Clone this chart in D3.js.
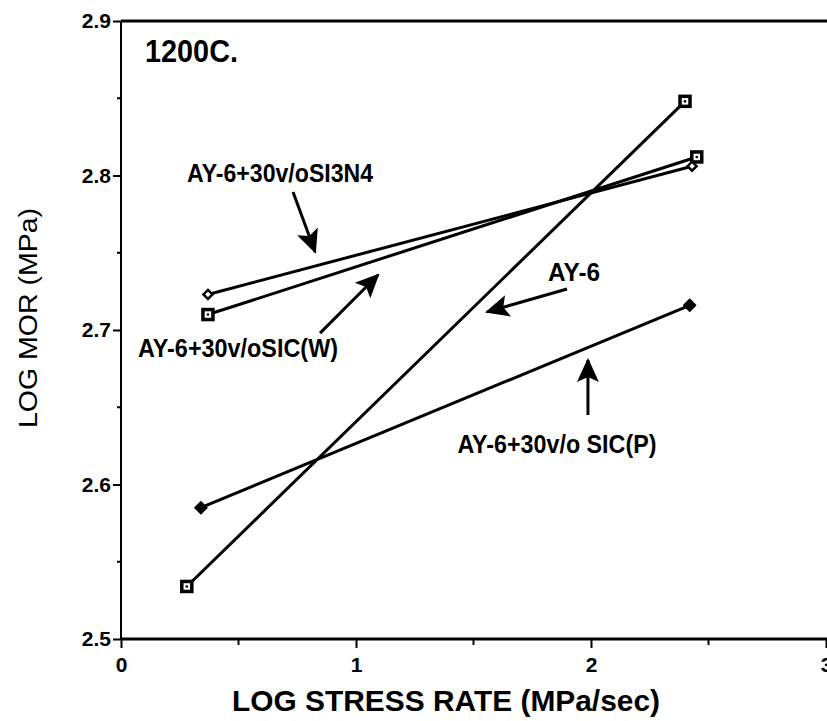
<!DOCTYPE html>
<html>
<head>
<meta charset="utf-8">
<script src="https://cdn.jsdelivr.net/npm/d3@7"></script>
<style>
  body { margin: 0; background: #fff; }
  text { font-family: "Liberation Sans", Arial, sans-serif; fill: #000; }
  .tick text { font-size: 21px; font-weight: bold; }
</style>
</head>
<body>
<div id="svg"></div>
<script>
// series values (log stress rate, log MOR)
const seriesNames = ['AY-6', 'AY-6+30v/oSIC(W)', 'AY-6+30v/oSI3N4', 'AY-6+30v/o SIC(P)'];
const ay6X = [0.28, 2.40];
const ay6Y = [2.534, 2.848];
const sicwX = [0.37, 2.45];
const sicwY = [2.710, 2.812];
const si3n4X = [0.37, 2.43];
const si3n4Y = [2.723, 2.806];
const sicpX = [0.34, 2.42];
const sicpY = [2.585, 2.716];

// tick labels
const xTicks = [0, 1, 2, 3];
const yTicks = [2.5, 2.6, 2.7, 2.8, 2.9];

// annotation labels and arrows (data coords)
const annoText = ['AY-6+30v/oSI3N4', 'AY-6+30v/oSIC(W)', 'AY-6', 'AY-6+30v/o SIC(P)'];
const annoX = [0.677, 0.498, 1.928, 1.855];
const annoY = [2.7958, 2.6825, 2.7317, 2.6204];
const annoLen = [186, 200, 52, 199];
const arrowFromX = [0.732, 0.847, 1.898, 1.987];
const arrowFromY = [2.7893, 2.698, 2.7265, 2.645];
const arrowToX = [0.826, 1.094, 1.557, 1.987];
const arrowToY = [2.7505, 2.7356, 2.7117, 2.6806];

//set variables
const w = 827;
const h = 721;
const pLeft = 121, pRight = 826, pTop = 21, pBottom = 639;

const xScale = d3.scaleLinear().domain([0, 3]).range([pLeft, pRight]);
const yScale = d3.scaleLinear().domain([2.5, 2.9]).range([pBottom, pTop]);

const svg = d3.select('#svg')
    .append('svg')
    .attr('width', w)
    .attr('height', h);

// arrow head
svg.append('defs').append('marker')
    .attr('id', 'head')
    .attr('viewBox', '0 0 24 24')
    .attr('refX', 22)
    .attr('refY', 12)
    .attr('markerWidth', 24)
    .attr('markerHeight', 24)
    .attr('markerUnits', 'userSpaceOnUse')
    .attr('orient', 'auto')
    .append('path')
    .attr('d', 'M0,1 L24,12 L0,23 L5,12 Z')
    .style('fill', 'black');

// top border
svg.append('line')
    .attr('x1', pLeft).attr('x2', w)
    .attr('y1', pTop).attr('y2', pTop)
    .style('stroke', 'black').style('stroke-width', 3);

// y axis
const yAxis = d3.axisLeft(yScale).tickValues(yTicks).tickFormat(d3.format('.1f')).tickSize(8).tickPadding(2);
const gy = svg.append('g')
    .attr('class', 'y-axis')
    .attr('transform', `translate(${pLeft},0)`)
    .call(yAxis)
    .attr('font-size', 21)
    .attr('font-weight', 'bold')
    .attr('font-family', '"Liberation Sans", Arial, sans-serif');
gy.select('.domain').attr('d', `M0,${pTop}V${pBottom}`).style('stroke-width', 2);
gy.selectAll('line').style('stroke-width', 2);
// minor ticks
svg.append('g').selectAll('line')
    .data([2.55, 2.65, 2.75, 2.85])
    .enter().append('line')
    .attr('x1', pLeft - 4).attr('x2', pLeft)
    .attr('y1', d => yScale(d)).attr('y2', d => yScale(d))
    .style('stroke', 'black').style('stroke-width', 2);

// x axis
const xAxis = d3.axisBottom(xScale).tickValues(xTicks).tickFormat(d3.format('d')).tickSize(9).tickPadding(9);
const gx = svg.append('g')
    .attr('class', 'x-axis')
    .attr('transform', `translate(0,${pBottom})`)
    .call(xAxis)
    .attr('font-size', 21)
    .attr('font-weight', 'bold')
    .attr('font-family', '"Liberation Sans", Arial, sans-serif');
gx.select('.domain').attr('d', `M${pLeft},0H${w}`).style('stroke-width', 3);
gx.selectAll('line').style('stroke-width', 2);
svg.append('g').selectAll('line')
    .data([0.5, 1.5, 2.5])
    .enter().append('line')
    .attr('x1', d => xScale(d)).attr('x2', d => xScale(d))
    .attr('y1', pBottom).attr('y2', pBottom + 6)
    .style('stroke', 'black').style('stroke-width', 2);

// lines
const series = [
    {x: ay6X, y: ay6Y, marker: 'sqdot'},
    {x: sicwX, y: sicwY, marker: 'square'},
    {x: si3n4X, y: si3n4Y, marker: 'diamond'},
    {x: sicpX, y: sicpY, marker: 'fill'}
];
series.forEach(s => {
    const pts = s.x.map((d, i) => [xScale(d), yScale(s.y[i])]);
    svg.append('path')
        .attr('d', d3.line()(pts))
        .style('fill', 'none')
        .style('stroke', 'black')
        .style('stroke-width', 3);
    const g = svg.append('g').selectAll('g').data(pts).enter().append('g')
        .attr('transform', d => `translate(${d[0]},${d[1]})`);
    if (s.marker === 'sqdot' || s.marker === 'square') {
        g.append('rect').attr('x', -5).attr('y', -5).attr('width', 10).attr('height', 10)
            .style('fill', 'white').style('stroke', 'black').style('stroke-width', 3.5);
        g.append('circle').attr('r', 1.3).style('fill', 'black');
    } else if (s.marker === 'diamond') {
        g.append('path').attr('d', 'M0,-4.5L4.5,0L0,4.5L-4.5,0Z')
            .style('fill', 'white').style('stroke', 'black').style('stroke-width', 2.5);
    } else {
        g.append('path').attr('d', 'M0,-6L6,0L0,6L-6,0Z')
            .style('fill', 'black').style('stroke', 'black').style('stroke-width', 1.5)
            .style('stroke-linejoin', 'round');
    }
});

// arrows
svg.append('g').selectAll('line')
    .data(annoText)
    .enter().append('line')
    .attr('x1', (d, i) => xScale(arrowFromX[i]))
    .attr('y1', (d, i) => yScale(arrowFromY[i]))
    .attr('x2', (d, i) => xScale(arrowToX[i]))
    .attr('y2', (d, i) => yScale(arrowToY[i]))
    .style('stroke', 'black')
    .style('stroke-width', 3)
    .attr('marker-end', 'url(#head)');

// annotation labels
svg.append('g').selectAll('text')
    .data(annoText)
    .enter().append('text')
    .attr('x', (d, i) => xScale(annoX[i]))
    .attr('y', (d, i) => yScale(annoY[i]))
    .attr('text-anchor', 'middle')
    .attr('textLength', (d, i) => annoLen[i])
    .attr('lengthAdjust', 'spacingAndGlyphs')
    .style('font-size', '25px')
    .style('font-weight', 'bold')
    .text(d => d);

// temperature label
svg.append('text')
    .attr('x', 145)
    .attr('y', 62)
    .attr('textLength', 93)
    .attr('lengthAdjust', 'spacingAndGlyphs')
    .style('font-size', '32px')
    .style('font-weight', 'bold')
    .text('1200C.');

// x-axis label
svg.append('text')
    .attr('x', 446)
    .attr('y', 711)
    .attr('text-anchor', 'middle')
    .attr('textLength', 428)
    .attr('lengthAdjust', 'spacingAndGlyphs')
    .style('font-size', '30px')
    .style('font-weight', 'bold')
    .text('LOG STRESS RATE (MPa/sec)');

// y-axis label
svg.append('text')
    .attr('transform', 'translate(37,318) rotate(-90)')
    .attr('text-anchor', 'middle')
    .attr('textLength', 220)
    .attr('lengthAdjust', 'spacingAndGlyphs')
    .style('font-size', '25px')
    .style('font-weight', 500)
    .text('LOG MOR (MPa)');
</script>
</body>
</html>
